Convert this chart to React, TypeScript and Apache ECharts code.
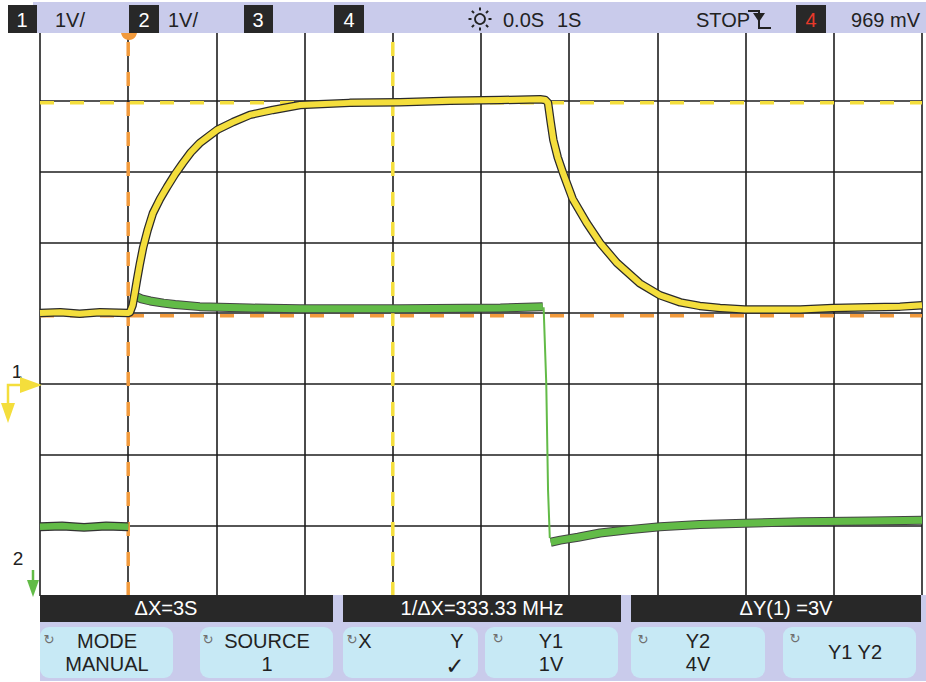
import React, { useEffect, useRef } from "react";
import * as echarts from "echarts";

// All trace values are in screen divisions (x: 0..10 div, 1 S/div; y: 0..8 div)
const yellowTrace: [number, number][] = [
  [0, 4.0], [0.23, 4.01], [0.45, 3.99], [0.68, 4.01], [1.0, 4.0], [1.02, 4.01],
  [1.05, 4.11], [1.08, 4.32], [1.1, 4.47], [1.13, 4.68], [1.17, 4.93], [1.22, 5.17],
  [1.28, 5.41], [1.36, 5.61], [1.44, 5.78], [1.53, 5.96], [1.62, 6.12], [1.71, 6.27],
  [1.81, 6.4], [2.01, 6.59], [2.19, 6.7], [2.38, 6.8], [2.64, 6.87], [2.95, 6.94],
  [3.51, 6.97], [4.08, 6.98], [4.65, 7.0], [5.22, 7.01], [5.67, 7.02], [5.73, 7.01],
  [5.76, 6.97], [5.79, 6.7], [5.82, 6.45], [5.87, 6.2], [5.93, 5.98], [6.04, 5.61],
  [6.2, 5.27], [6.35, 4.99], [6.54, 4.71], [6.8, 4.42], [7.03, 4.25], [7.26, 4.15],
  [7.48, 4.1], [7.71, 4.07], [7.99, 4.05], [8.39, 4.05], [8.62, 4.05], [8.99, 4.07],
  [9.41, 4.08], [9.75, 4.09], [10, 4.11],
];
const greenBefore: [number, number][] = [
  [0, 0.98], [0.25, 0.99], [0.5, 0.97], [0.75, 0.99], [1.0, 0.98],
];
const greenOn: [number, number][] = [
  [1.08, 4.24], [1.15, 4.2], [1.25, 4.17], [1.4, 4.14], [1.53, 4.12], [1.81, 4.09],
  [2.38, 4.07], [2.95, 4.06], [4.08, 4.06], [5.22, 4.07], [5.7, 4.09],
];
const greenDrop: [number, number][] = [
  [5.71, 4.08], [5.74, 3.0], [5.76, 1.5], [5.78, 0.82],
];
const greenOff: [number, number][] = [
  [5.79, 0.76], [5.9, 0.79], [6.1, 0.83], [6.35, 0.89], [6.7, 0.94], [7.03, 0.98],
  [7.48, 1.01], [7.99, 1.03], [8.62, 1.05], [9.41, 1.06], [10, 1.07],
];
// cursors (div)
const orangeCursorX = 1.0;
const orangeCursorY = 3.96;
const yellowCursorX = 4.0;
const yellowCursorY = 6.97;

const topLabels = ["1V/", "1V/", "0.0S", "1S", "STOP", "969 mV"];
const barLabels = ["ΔX=3S", "1/ΔX=333.33 MHz", "ΔY(1) =3V"];

const FONT = '"Liberation Sans", Arial, Helvetica, sans-serif';
const YELLOW = "#f4de3c";
const GREEN = "#62bb47";
const ORANGE = "#f29a3c";
const DARK = "#282828";
const LAVENDER = "#c9cbeb";
const CYAN = "#c7e9f5";

function txt(x: number, y: number, text: string, size: number, fill: string, align = "left", family = FONT, weight = "normal") {
  return {
    type: "text", z: 100,
    style: { x, y, text, fill, font: `${weight} ${size}px ${family}`, textAlign: align, textVerticalAlign: "middle" },
  };
}
function rect(x: number, y: number, w: number, h: number, fill: string, r = 0, z = 90) {
  return { type: "rect", z, shape: { x, y, width: w, height: h, r }, style: { fill } };
}
function sym(x: number, y: number) {
  return txt(x, y, "↻", 13, "#6f6f6f", "center", '"DejaVu Sans", sans-serif');
}

export default function App() {
  const ref = useRef<HTMLDivElement>(null);
  useEffect(() => {
    if (!ref.current) return;
    const chart = echarts.init(ref.current, null, { renderer: "svg" });

    const sun: any[] = [
      { type: "circle", z: 100, shape: { cx: 480, cy: 19, r: 5 }, style: { fill: "none", stroke: "#222", lineWidth: 1.8 } },
    ];
    for (let i = 0; i < 8; i++) {
      const a = (i * Math.PI) / 4;
      sun.push({
        type: "line", z: 100,
        shape: { x1: 480 + 8.5 * Math.cos(a), y1: 19 + 8.5 * Math.sin(a), x2: 480 + 11.5 * Math.cos(a), y2: 19 + 11.5 * Math.sin(a) },
        style: { stroke: "#222", lineWidth: 2 },
      });
    }

    const graphic: any[] = [
      // orange cursor marker
      { type: "circle", z: 85, shape: { cx: 129, cy: 32, r: 8 }, style: { fill: ORANGE } },
      // top bar
      rect(33, 2, 893, 31, LAVENDER),
      rect(8, 5, 29, 28, DARK, 0, 95),
      rect(129, 5, 30, 28, DARK, 0, 95),
      rect(244, 5, 29, 28, DARK, 0, 95),
      rect(334, 5, 30, 28, DARK, 0, 95),
      rect(796, 5, 30, 28, DARK, 0, 95),
      txt(22, 20, "1", 20, "#fff", "center"),
      txt(144, 20, "2", 20, "#fff", "center"),
      txt(258, 20, "3", 20, "#fff", "center"),
      txt(349, 20, "4", 20, "#fff", "center"),
      txt(811, 20, "4", 20, "#e8392a", "center"),
      txt(55, 20, topLabels[0], 20, "#222"),
      txt(168, 20, topLabels[1], 20, "#222"),
      txt(503, 20, topLabels[2], 20, "#222"),
      txt(557, 20, topLabels[3], 20, "#222"),
      txt(696, 20, topLabels[4], 20, "#222"),
      txt(920, 20, topLabels[5], 20, "#222", "right"),
      ...sun,
      // trigger symbol
      { type: "polyline", z: 100, shape: { points: [[748, 11], [759, 11], [759, 28], [771, 28]] }, style: { stroke: "#222", lineWidth: 2, fill: "none" } },
      { type: "polygon", z: 100, shape: { points: [[753, 13], [765, 13], [759, 22]] }, style: { fill: "#222" } },
      // left markers
      txt(17, 371, "1", 19, "#222", "center"),
      { type: "polyline", z: 100, shape: { points: [[30, 385], [8, 385], [8, 406]] }, style: { stroke: YELLOW, lineWidth: 2.5, fill: "none" } },
      { type: "polygon", z: 100, shape: { points: [[20, 377], [42, 385], [20, 393]] }, style: { fill: YELLOW } },
      { type: "polygon", z: 100, shape: { points: [[1, 403], [15, 403], [8, 423]] }, style: { fill: YELLOW } },
      txt(18, 558, "2", 19, "#222", "center"),
      { type: "line", z: 100, shape: { x1: 33, y1: 570, x2: 33, y2: 584 }, style: { stroke: GREEN, lineWidth: 2.5 } },
      { type: "polygon", z: 100, shape: { points: [[27, 580], [39, 580], [33, 597]] }, style: { fill: GREEN } },
      // bottom panel
      rect(40, 595, 886, 86, LAVENDER, 0, 88),
      rect(40, 595, 293, 27, DARK),
      rect(343, 595, 278, 27, DARK),
      rect(631, 595, 290, 27, DARK),
      txt(166, 608, barLabels[0], 20, "#fff", "center"),
      txt(482, 608, barLabels[1], 20, "#fff", "center"),
      txt(786, 608, barLabels[2], 20, "#fff", "center"),
      rect(40, 627, 133, 51, CYAN, 9),
      rect(200, 627, 133, 51, CYAN, 9),
      rect(343, 627, 135, 51, CYAN, 9),
      rect(485, 627, 133, 51, CYAN, 9),
      rect(631, 627, 134, 51, CYAN, 9),
      rect(783, 627, 133, 51, CYAN, 9),
      sym(49, 639), sym(208, 639), sym(352, 639), sym(498, 638), sym(643, 639), sym(795, 638),
      txt(107, 641, "MODE", 20, "#222", "center"),
      txt(107, 664, "MANUAL", 20, "#222", "center"),
      txt(267, 641, "SOURCE", 20, "#222", "center"),
      txt(267, 664, "1", 20, "#222", "center"),
      txt(365, 641, "X", 20, "#222", "center"),
      txt(457, 641, "Y", 20, "#222", "center"),
      txt(455, 666, "✓", 23, "#222", "center", '"DejaVu Sans", sans-serif', "bold"),
      txt(551, 641, "Y1", 20, "#222", "center"),
      txt(551, 664, "1V", 20, "#222", "center"),
      txt(698, 641, "Y2", 20, "#222", "center"),
      txt(698, 664, "4V", 20, "#222", "center"),
      txt(855, 652, "Y1 Y2", 20, "#222", "center"),
    ];

    const lineSeries = (data: [number, number][], color: string, width: number, z: number, dash?: number[]) => ({
      type: "line", data, symbol: "none", silent: true, z, smooth: false,
      lineStyle: { color, width, type: dash || "solid", cap: "butt", join: "round" },
    });

    chart.setOption({
      animation: false,
      backgroundColor: "#ffffff",
      grid: { left: 40, top: 30, right: 4, bottom: 86 },
      xAxis: {
        type: "value", min: 0, max: 10, interval: 1,
        axisLine: { show: false }, axisTick: { show: false }, axisLabel: { show: false },
        splitLine: { show: true, lineStyle: { color: "#1e1e1e", width: 1.6 } },
      },
      yAxis: {
        type: "value", min: 0, max: 8, interval: 1,
        axisLine: { show: false }, axisTick: { show: false }, axisLabel: { show: false },
        splitLine: { show: true, lineStyle: { color: "#1e1e1e", width: 1.6 } },
      },
      series: [
        lineSeries([[orangeCursorX, 0], [orangeCursorX, 8]], ORANGE, 3.5, 3, [14, 16]),
        lineSeries([[0, orangeCursorY], [10, orangeCursorY]], ORANGE, 3.5, 3, [14, 16]),
        lineSeries([[yellowCursorX, 0], [yellowCursorX, 8]], YELLOW, 3.5, 3, [14, 16]),
        lineSeries([[0, yellowCursorY], [10, yellowCursorY]], YELLOW, 3.5, 3, [14, 16]),
        lineSeries(greenBefore, "#333", 9, 4),
        lineSeries(greenBefore, GREEN, 6.5, 5),
        lineSeries(greenOn, "#444", 9, 4),
        lineSeries(greenOn, GREEN, 7, 5),
        lineSeries(greenDrop, GREEN, 2, 5),
        lineSeries(greenOff, "#444", 9, 4),
        lineSeries(greenOff, GREEN, 7, 5),
        lineSeries(yellowTrace, "#2a2a2a", 8.5, 6),
        lineSeries(yellowTrace, YELLOW, 6, 7),
      ],
      graphic,
    });
    return () => chart.dispose();
  }, []);
  return <div ref={ref} style={{ position: "absolute", left: 0, top: 0, width: 926, height: 682 }} />;
}
